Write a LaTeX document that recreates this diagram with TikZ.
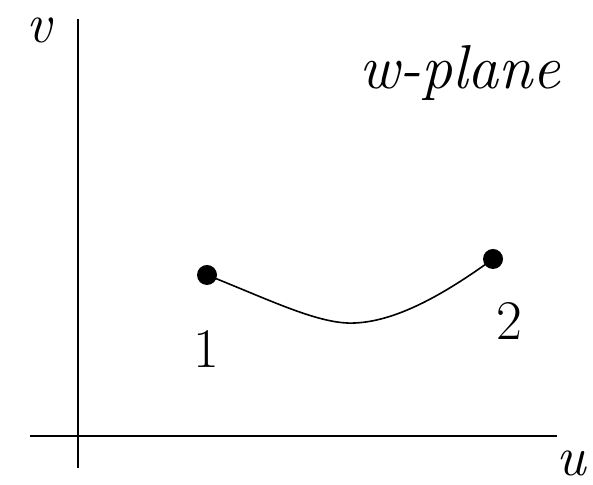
\documentclass[tikz,border=0pt]{standalone}
\begin{document}
\begin{tikzpicture}[x=0.5pt,y=0.5pt,
  dot/.style={circle,fill=black,inner sep=0pt,minimum size=10pt},
  lbl/.style={font=\fontsize{28}{32}\selectfont}]

\useasboundingbox (0,0) rectangle (593,485);

% axes
\coordinate (vtop) at (78,466);
\coordinate (vbot) at (78,17);
\coordinate (uleft) at (30,49);
\coordinate (uright) at (557,49);
\draw[line width=1pt] (vbot) -- (vtop);
\draw[line width=1pt] (uleft) -- (uright);

\node[lbl] (v) at (40,455) {\textit{v}};
\node[lbl] (u) at (572,22) {\textit{u}};
\node[lbl,font=\fontsize{31}{35}\selectfont] (plane) at (460,412) {\textit{w-plane}};

% the two points
\node[dot] (p1) at (207,210) {};
\node[dot] (p2) at (493,226) {};
\node[lbl] (l1) at (206,136) {1};
\node[lbl] (l2) at (509,164) {2};

\coordinate (low) at (355,162);
\draw[line width=0.8pt] (p1.center) .. controls (270,185) and (320,160) .. (low)
  .. controls (400,164) and (450,195) .. (p2.center);

\end{tikzpicture}
\end{document}
